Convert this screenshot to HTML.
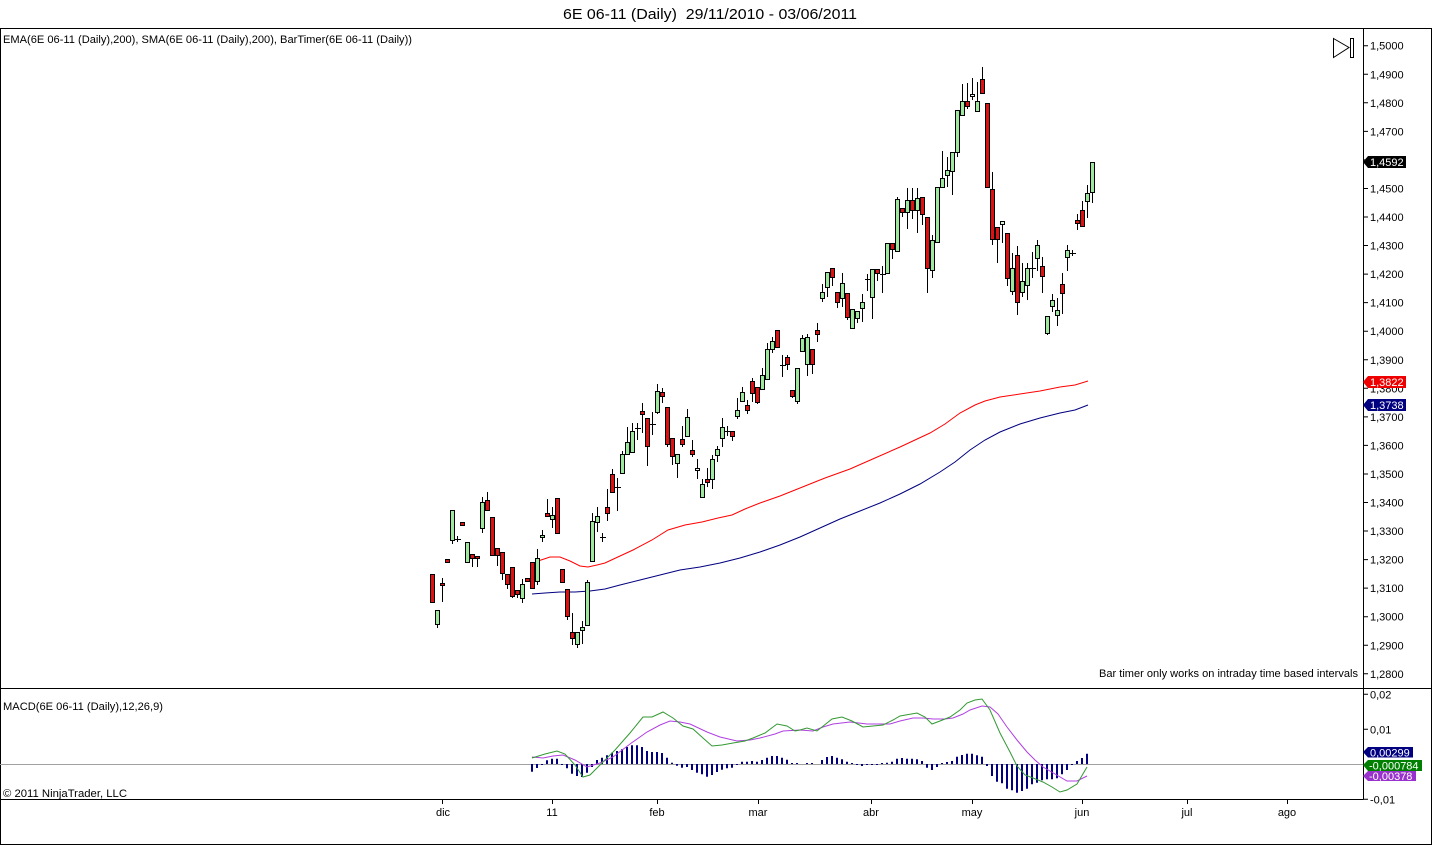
<!DOCTYPE html>
<html><head><meta charset="utf-8"><style>
html,body{margin:0;padding:0;background:#fff;}
svg{display:block;}
text{font-family:"Liberation Sans",Arial,sans-serif;}
</style></head><body>
<svg width="1432" height="845" viewBox="0 0 1432 845" xmlns="http://www.w3.org/2000/svg">
<rect x="0" y="0" width="1432" height="845" fill="#fff"/>
<!-- title -->
<text x="710" y="19" font-size="15" text-anchor="middle" textLength="294" lengthAdjust="spacingAndGlyphs" xml:space="preserve">6E 06-11 (Daily)  29/11/2010 - 03/06/2011</text>
<!-- frame -->
<g stroke="#000" stroke-width="1" fill="none">
<path d="M0 28.5H1432M0.5 28V845M1431.5 28V845M0 844.5H1432M1363.5 28V799M0 688.5H1432M0 799.5H1363.5"/>
</g>
<text x="3" y="43" font-size="11" textLength="409" lengthAdjust="spacingAndGlyphs">EMA(6E 06-11 (Daily),200), SMA(6E 06-11 (Daily),200), BarTimer(6E 06-11 (Daily))</text>
<!-- play icon -->
<path d="M1333.5 38.5L1349 47.5L1333.5 57.5Z" fill="none" stroke="#000" stroke-width="1"/>
<rect x="1350.5" y="38.5" width="3" height="19" fill="none" stroke="#000" stroke-width="1"/>
<!-- price ticks -->
<g stroke="#000" stroke-width="1">
<path d="M1363 45.7h5M1363 74.25h5M1363 102.8h5M1363 131.35h5M1363 159.9h5M1363 188.45h5M1363 217h5M1363 245.55h5M1363 274.1h5M1363 302.65h5M1363 331.2h5M1363 359.75h5M1363 388.3h5M1363 416.85h5M1363 445.4h5M1363 473.95h5M1363 502.5h5M1363 531.05h5M1363 559.6h5M1363 588.15h5M1363 616.7h5M1363 645.25h5M1363 673.8h5"/>
<path d="M1363 694.3h5M1363 729.3h5M1363 799.3h5"/>
<path d="M442.5 799v5M552.5 799v5M657.5 799v5M758.5 799v5M871.5 799v5M972.5 799v5M1082.5 799v5M1187.5 799v5M1287.5 799v5"/>
</g>
<g font-size="11" fill="#000">
<text x="1370" y="49.7">1,5000</text>
<text x="1370" y="78.25">1,4900</text>
<text x="1370" y="106.8">1,4800</text>
<text x="1370" y="135.35">1,4700</text>
<text x="1370" y="163.9">1,4600</text>
<text x="1370" y="192.45">1,4500</text>
<text x="1370" y="221">1,4400</text>
<text x="1370" y="249.55">1,4300</text>
<text x="1370" y="278.1">1,4200</text>
<text x="1370" y="306.65">1,4100</text>
<text x="1370" y="335.2">1,4000</text>
<text x="1370" y="363.75">1,3900</text>
<text x="1370" y="392.3">1,3800</text>
<text x="1370" y="420.85">1,3700</text>
<text x="1370" y="449.4">1,3600</text>
<text x="1370" y="477.95">1,3500</text>
<text x="1370" y="506.5">1,3400</text>
<text x="1370" y="535.05">1,3300</text>
<text x="1370" y="563.6">1,3200</text>
<text x="1370" y="592.15">1,3100</text>
<text x="1370" y="620.7">1,3000</text>
<text x="1370" y="649.25">1,2900</text>
<text x="1370" y="677.8">1,2800</text>
<text x="1370" y="698.3">0,02</text>
<text x="1370" y="733.3">0,01</text>
<text x="1370" y="803.3">-0,01</text>
</g>
<g font-size="11" fill="#000" text-anchor="middle">
<text x="443" y="816">dic</text>
<text x="552" y="816">11</text>
<text x="657" y="816">feb</text>
<text x="758" y="816">mar</text>
<text x="871" y="816">abr</text>
<text x="972" y="816">may</text>
<text x="1082" y="816">jun</text>
<text x="1187" y="816">jul</text>
<text x="1287" y="816">ago</text>
</g>
<text x="1358" y="677" font-size="11" text-anchor="end" textLength="259" lengthAdjust="spacingAndGlyphs">Bar timer only works on intraday time based intervals</text>
<text x="3" y="710" font-size="11" textLength="160" lengthAdjust="spacingAndGlyphs">MACD(6E 06-11 (Daily),12,26,9)</text>
<text x="3" y="797" font-size="11" textLength="124" lengthAdjust="spacingAndGlyphs">© 2011 NinjaTrader, LLC</text>

<!-- moving averages -->
<polyline fill="none" stroke="#ff0000" stroke-width="1" points="535,562 550,557 560,557 570,561 580,566 588,567 597,565 605,563 620,556 633,550 652,540 668,530 685,525 702,522 718,518 732,515 745,509 760,503 780,496 800,488 825,478 850,469 875,458 900,447 915,440 930,433 945,424 960,413 975,405 985,401 1000,397 1020,394 1040,391 1060,387 1075,385 1088,381"/>
<polyline fill="none" stroke="#000080" stroke-width="1" points="532,594 545,593 560,592 575,592 590,591 605,589 620,585 640,580 660,575 680,570 700,567 720,563 740,558 760,552 780,545 800,537 820,528 840,519 860,511 880,503 900,494 920,484 940,472 955,462 970,450 985,440 1000,432 1020,424 1040,418 1060,413 1075,410 1088,405"/>

<!-- wicks -->
<path fill="none" stroke="#000" stroke-width="1" d="M437.5 610V628M452.5 510V544M482.5 497V533M522.5 579V603M537.5 549V585M542.5 530V542M552.5 507V528M577.5 632V648M582.5 621V644M587.5 580V625M592.5 513V561M597.5 507V532M622.5 451V473M627.5 427V454M632.5 423V452M657.5 384V414M677.5 454V478M687.5 409V436M697.5 459V479M702.5 479V497M712.5 455V489M717.5 446V462M722.5 418V447M737.5 398V419M742.5 387V401M762.5 368V389M767.5 343V379M772.5 337V353M797.5 368V404M802.5 335V351M807.5 334V376M822.5 284V302M827.5 272V297M842.5 273V307M852.5 309V329M857.5 311V323M862.5 294V322M872.5 269V319M897.5 197V251M907.5 188V229M917.5 188V233M932.5 235V278M942.5 151V187M947.5 157V187M952.5 152V195M957.5 110V157M962.5 84V115M972.5 78V100M977.5 82V111M1002.5 221V243M1012.5 253V295M1022.5 263V297M1027.5 263V300M1037.5 240V271M1047.5 316V335M1052.5 294V312M1057.5 298V326M1067.5 245V271M1087.5 185V218M1092.5 162V203
M442.5 578V602M472.5 554V567M477.5 556V567M487.5 492V510M497.5 548V566M502.5 552V580M507.5 574V589M512.5 567V598M517.5 590V598M547.5 499V516M567.5 589V620M572.5 613V645M607.5 489V521M612.5 469V492M642.5 403V433M647.5 418V466M662.5 388V403M667.5 407V447M672.5 438V465M682.5 426V447M692.5 440V457M707.5 468V487M732.5 431V441M747.5 400V414M752.5 378V402M757.5 387V404M787.5 355V370M792.5 390V398M812.5 349V374M817.5 323V342M832.5 268V286M837.5 292V308M847.5 293V320M877.5 269V281M892.5 243V259M902.5 208V217M912.5 188V219M922.5 197V225M927.5 217V293M967.5 83V109M982.5 67V93M992.5 172V245M997.5 227V263M1007.5 233V286M1017.5 246V315M1042.5 257V293M1062.5 273V314M1077.5 214V230M1082.5 201V227
M457.5 536V542M455 539.5h6M602.5 533V542M600 537.5h6M617.5 478V511M615 487.5h6M637.5 423V440M635 428.5h6M652.5 412V435M650 424.5h6M727.5 426V436M725 431.5h6M782.5 355V377M780 365.5h6M867.5 274V291M865 279.5h6M882.5 266V293M880 274.5h6M1032.5 252V278M1030 268.5h6M1072.5 250V256M1070 253.5h6"/>

<!-- green bodies -->
<g fill="#9de89d" stroke="#000" stroke-width="1">
<rect x="435.5" y="610.5" width="4" height="14"/>
<rect x="450.5" y="510.5" width="4" height="30"/>
<rect x="465.5" y="542.5" width="4" height="20"/>
<rect x="480.5" y="502.5" width="4" height="26"/>
<rect x="520.5" y="584.5" width="4" height="14"/>
<rect x="535.5" y="558.5" width="4" height="23"/>
<rect x="540.5" y="535.5" width="4" height="2"/>
<rect x="550.5" y="515.5" width="4" height="4"/>
<rect x="575.5" y="632.5" width="4" height="12"/>
<rect x="580.5" y="627.5" width="4" height="3"/>
<rect x="585.5" y="582.5" width="4" height="43"/>
<rect x="590.5" y="521.5" width="4" height="40"/>
<rect x="595.5" y="516.5" width="4" height="6"/>
<rect x="620.5" y="454.5" width="4" height="19"/>
<rect x="625.5" y="442.5" width="4" height="12"/>
<rect x="630.5" y="431.5" width="4" height="21"/>
<rect x="655.5" y="391.5" width="4" height="21"/>
<rect x="675.5" y="454.5" width="4" height="9"/>
<rect x="685.5" y="417.5" width="4" height="19"/>
<rect x="695.5" y="468.5" width="4" height="2" fill="#eef8ee"/>
<rect x="700.5" y="484.5" width="4" height="13"/>
<rect x="710.5" y="459.5" width="4" height="20"/>
<rect x="715.5" y="449.5" width="4" height="6"/>
<rect x="720.5" y="427.5" width="4" height="11"/>
<rect x="735.5" y="410.5" width="4" height="6"/>
<rect x="740.5" y="392.5" width="4" height="9"/>
<rect x="760.5" y="375.5" width="4" height="14"/>
<rect x="765.5" y="349.5" width="4" height="30"/>
<rect x="770.5" y="341.5" width="4" height="8"/>
<rect x="795.5" y="368.5" width="4" height="33"/>
<rect x="800.5" y="338.5" width="4" height="13"/>
<rect x="805.5" y="337.5" width="4" height="27"/>
<rect x="820.5" y="292.5" width="4" height="6"/>
<rect x="825.5" y="272.5" width="4" height="15"/>
<rect x="840.5" y="283.5" width="4" height="15"/>
<rect x="850.5" y="309.5" width="4" height="19"/>
<rect x="855.5" y="311.5" width="4" height="7"/>
<rect x="860.5" y="302.5" width="4" height="6"/>
<rect x="870.5" y="269.5" width="4" height="28"/>
<rect x="885.5" y="243.5" width="4" height="30"/>
<rect x="895.5" y="199.5" width="4" height="52"/>
<rect x="905.5" y="200.5" width="4" height="12"/>
<rect x="915.5" y="198.5" width="4" height="12"/>
<rect x="930.5" y="240.5" width="4" height="30"/>
<rect x="935.5" y="187.5" width="4" height="55"/>
<rect x="940.5" y="178.5" width="4" height="9"/>
<rect x="945.5" y="170.5" width="4" height="5"/>
<rect x="950.5" y="152.5" width="4" height="19"/>
<rect x="955.5" y="110.5" width="4" height="42"/>
<rect x="960.5" y="101.5" width="4" height="14"/>
<rect x="970.5" y="94.5" width="4" height="2" fill="#eef8ee"/>
<rect x="975.5" y="101.5" width="4" height="10"/>
<rect x="1000.5" y="221.5" width="4" height="3" fill="#d8f4d8"/>
<rect x="1010.5" y="268.5" width="4" height="23"/>
<rect x="1020.5" y="281.5" width="4" height="11"/>
<rect x="1025.5" y="268.5" width="4" height="17"/>
<rect x="1035.5" y="245.5" width="4" height="13"/>
<rect x="1045.5" y="316.5" width="4" height="17"/>
<rect x="1050.5" y="300.5" width="4" height="6"/>
<rect x="1055.5" y="310.5" width="4" height="5"/>
<rect x="1065.5" y="250.5" width="4" height="7"/>
<rect x="1085.5" y="193.5" width="4" height="8"/>
<rect x="1090.5" y="162.5" width="4" height="30"/>
</g>
<!-- red bodies -->
<g fill="#dd1111" stroke="#000" stroke-width="1">
<rect x="430.5" y="574.5" width="4" height="28"/>
<rect x="440.5" y="583.5" width="4" height="2"/>
<rect x="445.5" y="559.5" width="4" height="3"/>
<rect x="460.5" y="522.5" width="4" height="3"/>
<rect x="470.5" y="554.5" width="4" height="4"/>
<rect x="475.5" y="556.5" width="4" height="2"/>
<rect x="485.5" y="500.5" width="4" height="10"/>
<rect x="490.5" y="517.5" width="4" height="38"/>
<rect x="495.5" y="548.5" width="4" height="7"/>
<rect x="500.5" y="552.5" width="4" height="21"/>
<rect x="505.5" y="574.5" width="4" height="10"/>
<rect x="510.5" y="567.5" width="4" height="29"/>
<rect x="515.5" y="590.5" width="4" height="4"/>
<rect x="525.5" y="578.5" width="4" height="3"/>
<rect x="530.5" y="562.5" width="4" height="26"/>
<rect x="545.5" y="513.5" width="4" height="3"/>
<rect x="555.5" y="498.5" width="4" height="35"/>
<rect x="560.5" y="569.5" width="4" height="13"/>
<rect x="565.5" y="589.5" width="4" height="27"/>
<rect x="570.5" y="632.5" width="4" height="6"/>
<rect x="605.5" y="507.5" width="4" height="6"/>
<rect x="610.5" y="474.5" width="4" height="18"/>
<rect x="640.5" y="411.5" width="4" height="3"/>
<rect x="645.5" y="418.5" width="4" height="28"/>
<rect x="660.5" y="392.5" width="4" height="4"/>
<rect x="665.5" y="407.5" width="4" height="37"/>
<rect x="670.5" y="438.5" width="4" height="18"/>
<rect x="680.5" y="439.5" width="4" height="5"/>
<rect x="690.5" y="450.5" width="4" height="4"/>
<rect x="705.5" y="479.5" width="4" height="3"/>
<rect x="730.5" y="431.5" width="4" height="5"/>
<rect x="745.5" y="405.5" width="4" height="5"/>
<rect x="750.5" y="381.5" width="4" height="12"/>
<rect x="755.5" y="387.5" width="4" height="15"/>
<rect x="775.5" y="330.5" width="4" height="17"/>
<rect x="785.5" y="357.5" width="4" height="7"/>
<rect x="790.5" y="390.5" width="4" height="6"/>
<rect x="810.5" y="349.5" width="4" height="15"/>
<rect x="815.5" y="330.5" width="4" height="4"/>
<rect x="830.5" y="268.5" width="4" height="9"/>
<rect x="835.5" y="292.5" width="4" height="10"/>
<rect x="845.5" y="293.5" width="4" height="24"/>
<rect x="875.5" y="269.5" width="4" height="4"/>
<rect x="890.5" y="243.5" width="4" height="6"/>
<rect x="900.5" y="208.5" width="4" height="4"/>
<rect x="910.5" y="200.5" width="4" height="10"/>
<rect x="920.5" y="197.5" width="4" height="17"/>
<rect x="925.5" y="217.5" width="4" height="51"/>
<rect x="965.5" y="101.5" width="4" height="5"/>
<rect x="980.5" y="79.5" width="4" height="14"/>
<rect x="985.5" y="103.5" width="4" height="84"/>
<rect x="990.5" y="189.5" width="4" height="50"/>
<rect x="995.5" y="227.5" width="4" height="12"/>
<rect x="1005.5" y="233.5" width="4" height="45"/>
<rect x="1015.5" y="255.5" width="4" height="47"/>
<rect x="1040.5" y="266.5" width="4" height="10"/>
<rect x="1060.5" y="284.5" width="4" height="9"/>
<rect x="1075.5" y="220.5" width="4" height="3"/>
<rect x="1080.5" y="210.5" width="4" height="16"/>
</g>

<!-- MACD panel -->
<path d="M0 764.5H1363" stroke="#a0a0a0" stroke-width="1"/>
<path fill="none" stroke="#000080" stroke-width="2" d="M532 764V771.7M537 764V768M542 764V765M547 764V760.3M552 764V758.7M557 764V758.7M562 764V765M567 764V768.3M572 764V773.7M577 764V776M582 764V777M587 764V772.7M592 764V767M597 764V760M602 764V757.7M607 764V755.3M612 764V752.7M617 764V751M622 764V749.3M627 764V747M632 764V745.3M637 764V745.3M642 764V747M647 764V751M652 764V752M657 764V752M662 764V753M667 764V757.7M672 764V762.7M677 764V765.7M682 764V767.7M687 764V767M692 764V770M697 764V772.7M702 764V774.3M707 764V776.7M712 764V775M717 764V772M722 764V769.7M727 764V768.3M732 764V767.7M737 764V765M742 764V761.7M747 764V761.7M752 764V761M757 764V761.7M762 764V760M767 764V757.7M772 764V756M777 764V756M782 764V757.7M787 764V759.7M792 764V763M797 764V763M807 764V763M812 764V763M822 764V760M827 764V757M832 764V756M837 764V757.7M842 764V759.3M847 764V761.7M852 764V763M857 764V765M862 764V766M867 764V765M872 764V765M877 764V765M882 764V763M887 764V762.7M892 764V761.7M897 764V758.7M902 764V758M907 764V758.7M912 764V758.7M917 764V759.3M922 764V761M927 764V767.7M932 764V770M937 764V767M942 764V763M947 764V762M952 764V761M957 764V756.7M962 764V755M967 764V753.7M972 764V753.7M977 764V755.3M982 764V756.7M987 764V766M992 764V776M997 764V781.7M1002 764V783.3M1007 764V788.7M1012 764V790.3M1017 764V792.7M1022 764V791M1027 764V788.7M1032 764V784.3M1037 764V782.7M1042 764V780.3M1047 764V779.3M1052 764V779.3M1057 764V778.3M1062 764V774.3M1067 764V770M1072 764V765M1077 764V761M1082 764V758M1087 764V753.7"/>
<polyline fill="none" stroke="#b040e0" stroke-width="1" points="532,757 543,758 553,756 563,755 575,760 587,767 600,763 613,757 630,744 647,732 660,725 670,721 680,722 690,724 707,732 720,737 737,741 750,740 760,738 775,734 783,731 800,730 813,731 823,727 833,724 850,722 867,724 890,724 900,721 913,718 923,718 933,719 945,719 953,718 963,714 970,710 982,706 990,707 998,714 1007,727 1017,740 1027,752 1035,760 1043,767 1055,774 1067,781 1077,781 1087,776"/>
<polyline fill="none" stroke="#339933" stroke-width="1" points="532,758 545,754 557,751 565,754 575,765 583,777 590,775 600,765 615,750 630,733 643,717 652,717 663,712 673,718 683,726 693,729 703,738 712,746 722,745 733,743 745,741 753,738 765,733 777,724 787,726 795,731 800,730 807,728 817,731 832,719 842,717 852,721 863,727 883,725 893,720 900,716 917,713 925,717 932,724 940,721 950,717 960,710 967,703 975,700 982,699 990,710 1000,733 1010,752 1017,766 1025,775 1033,778 1043,782 1052,787 1060,792 1067,790 1077,784 1087,767"/>

<!-- axis value labels -->
<polygon points="1363,162 1368,156 1406,156 1406,168 1368,168" fill="#000"/>
<text x="1370" y="166" font-size="11" fill="#fff">1,4592</text>
<polygon points="1363,382 1368,376 1406,376 1406,388 1368,388" fill="#ee0000"/>
<text x="1370" y="386" font-size="11" fill="#fff">1,3822</text>
<polygon points="1363,405 1368,399 1406,399 1406,411 1368,411" fill="#000080"/>
<text x="1370" y="409" font-size="11" fill="#fff">1,3738</text>
<polygon points="1363,752 1368,747 1413,747 1413,757.5 1368,757.5" fill="#000080"/>
<text x="1370" y="756.5" font-size="11" fill="#fff">0,00299</text>
<polygon points="1363,765 1368,760 1422,760 1422,771 1368,771" fill="#008000"/>
<text x="1369" y="769.5" font-size="11" fill="#fff">-0,000784</text>
<polygon points="1363,776 1368,771 1416,771 1416,781 1368,781" fill="#9932cc"/>
<text x="1369" y="780" font-size="11" fill="#fff">-0,00378</text>
</svg>
</body></html>
